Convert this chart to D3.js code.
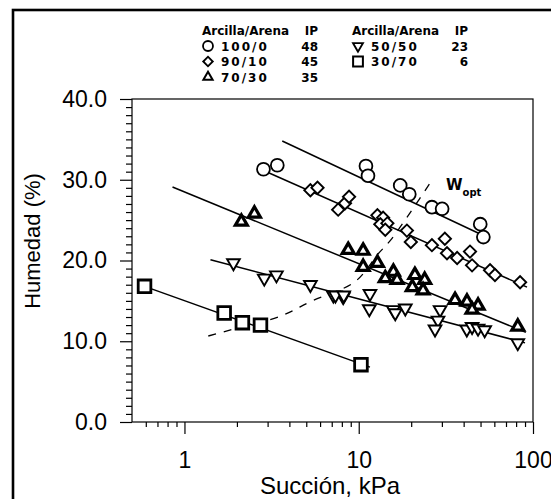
<!DOCTYPE html>
<html>
<head>
<meta charset="utf-8">
<script src="https://cdn.jsdelivr.net/npm/d3@7"></script>
<style>
  html, body { margin: 0; padding: 0; background: #fff; }
  svg { display: block; }
  .axis text { font-family: "Liberation Sans", Arial, sans-serif; fill: #000; }
  .legend text { font-family: "DejaVu Sans", sans-serif; font-weight: bold; fill: #000; }
</style>
</head>
<body>
<div id="chart"></div>
<script>
// Humedad vs succión, five clay/sand mixes with fitted lines and the W_opt curve.

const WIDTH = 551;
const HEIGHT = 499;
const PLOT = { left: 132, right: 533, top: 99, bottom: 422 };

// Points: [succión kPa, humedad %]
const mix100_0 = [[2.84, 31.3], [3.41, 31.8], [11.0, 31.7], [11.3, 30.5], [17.3, 29.3],
  [19.5, 28.2], [26.3, 26.6], [30.1, 26.4], [49.8, 24.5], [51.9, 22.9]];
const mix90_10 = [[5.28, 28.7], [5.8, 29.0], [7.62, 26.3], [8.34, 27.1], [8.8, 27.9],
  [12.8, 25.6], [13.8, 25.3], [13.3, 24.5], [14.6, 24.6], [14.2, 23.8], [18.9, 23.7],
  [19.9, 22.3], [26.3, 21.9], [31.2, 22.7], [32.1, 20.9], [36.7, 20.3], [43.5, 21.1],
  [44.7, 19.4], [56.7, 18.8], [60.5, 18.2], [84.3, 17.3]];
const mix70_30 = [[2.12, 24.8], [2.52, 25.8], [8.7, 21.3], [10.6, 21.2], [10.6, 19.2],
  [12.8, 19.7], [15.8, 18.6], [16.6, 17.6], [14.2, 17.8], [21.0, 18.2], [23.9, 17.6],
  [20.3, 16.7], [23.4, 16.3], [35.7, 15.1], [41.8, 14.9], [48.4, 14.4], [44.7, 13.9],
  [81.8, 11.8]];
const mix50_50 = [[1.91, 19.7], [2.87, 17.8], [3.37, 18.2], [5.28, 17.0], [7.15, 15.7],
  [8.15, 15.5], [7.35, 15.7], [8.2, 15.7], [11.6, 15.9], [11.5, 14.0], [15.8, 13.9],
  [16.2, 13.5], [18.5, 14.1], [29.3, 13.9], [28.5, 12.6], [27.4, 11.5], [41.7, 11.5],
  [44.7, 11.8], [48.4, 11.6], [52.8, 11.4], [81.8, 9.8]];
const mix30_70 = [[0.59, 16.8], [1.69, 13.5], [2.15, 12.3], [2.73, 12.0], [10.3, 7.1]];

// Fitted lines, start and end: [succión, humedad]
const fit100_0 = [[3.64, 34.8], [48.4, 23.4]];
const fit90_10 = [[2.8, 31.2], [92.4, 16.7]];
const fit70_30 = [[0.854, 29.1], [91, 11.1]];
const fit50_50 = [[1.41, 20.1], [90, 9.8]];
const fit30_70 = [[0.59, 16.8], [11.6, 6.8]];

// Optimum water content curve (dashed)
const wOpt = [[1.37, 10.65], [1.84, 11.4], [3.55, 13.1], [5.41, 15.0], [9.55, 17.4],
  [12.9, 20.8], [15.2, 22.5], [19.7, 25.9], [26.4, 30.0]];

const xMajor = [1, 10, 100];
const xMinor = [0.6, 0.7, 0.8, 0.9, 2, 3, 4, 5, 6, 7, 8, 9, 20, 30, 40, 50, 60, 70, 80, 90];
const yMajor = [0, 10, 20, 30, 40];
const yMinor = d3.range(0, 41).filter((v) => v % 10 !== 0);

const legendLeft = [["circle", "100/0", "48"], ["diamond", "90/10", "45"], ["triUp", "70/30", "35"]];
const legendRight = [["triDown", "50/50", "23"], ["square", "30/70", "6"]];

const svg = d3.select("#chart").append("svg")
  .attr("width", WIDTH)
  .attr("height", HEIGHT);

// outer frame
svg.append("rect")
  .attr("x", 13).attr("y", 10)
  .attr("width", 600).attr("height", 560)
  .attr("fill", "none").attr("stroke", "#000").attr("stroke-width", 2.6);

const x = d3.scaleLog().domain([0.5, 100]).range([PLOT.left, PLOT.right]);
const y = d3.scaleLinear().domain([0, 40]).range([PLOT.bottom, PLOT.top]);

// plot box
svg.append("rect")
  .attr("x", PLOT.left).attr("y", PLOT.top)
  .attr("width", PLOT.right - PLOT.left).attr("height", PLOT.bottom - PLOT.top)
  .attr("fill", "none").attr("stroke", "#000").attr("stroke-width", 1.2);

const styleAxis = (g) => {
  g.select(".domain").remove();
  g.selectAll(".tick line").attr("stroke", "#000").attr("stroke-width", 1.2);
};

svg.append("g").attr("class", "axis")
  .attr("transform", `translate(0,${PLOT.bottom})`)
  .call(d3.axisBottom(x).tickValues(xMinor).tickSize(5).tickFormat(""))
  .call(styleAxis);
svg.append("g").attr("class", "axis")
  .attr("transform", `translate(0,${PLOT.bottom})`)
  .call(d3.axisBottom(x).tickValues(xMajor).tickSize(12).tickPadding(18).tickFormat(d3.format("d")))
  .call(styleAxis)
  .call((g) => g.selectAll("text").style("font-size", "23px"));

svg.append("g").attr("class", "axis")
  .attr("transform", `translate(${PLOT.left},0)`)
  .call(d3.axisLeft(y).tickValues(yMinor).tickSize(6).tickFormat(""))
  .call(styleAxis);
svg.append("g").attr("class", "axis")
  .attr("transform", `translate(${PLOT.left},0)`)
  .call(d3.axisLeft(y).tickValues(yMajor).tickSize(12).tickPadding(13).tickFormat(d3.format(".1f")))
  .call(styleAxis)
  .call((g) => g.selectAll("text").style("font-size", "23px"));

svg.append("text").attr("class", "axis")
  .attr("x", 330).attr("y", 494)
  .attr("text-anchor", "middle")
  .style("font-family", "'Liberation Sans', Arial, sans-serif")
  .style("font-size", "24px")
  .text("Succión, kPa");

svg.append("text")
  .attr("transform", "translate(40,241) rotate(-90)")
  .attr("text-anchor", "middle")
  .style("font-family", "'Liberation Sans', Arial, sans-serif")
  .style("font-size", "22px")
  .text("Humedad (%)");

// fitted lines
const line = d3.line().x((d) => x(d[0])).y((d) => y(d[1]));
[fit100_0, fit90_10, fit70_30, fit50_50, fit30_70].forEach((fit) => {
  svg.append("path")
    .attr("d", line(fit))
    .attr("fill", "none").attr("stroke", "#000").attr("stroke-width", 1.5);
});

svg.append("path")
  .attr("d", line.curve(d3.curveCatmullRom)(wOpt))
  .attr("fill", "none").attr("stroke", "#000").attr("stroke-width", 1.3)
  .attr("stroke-dasharray", "8,8");

// markers
const SHAPES = {
  circle: { type: d3.symbolCircle, size: 130, rotate: 0, width: 1.8 },
  diamond: { type: d3.symbolSquare, size: 75, rotate: 45, width: 1.9 },
  triUp: { type: d3.symbolTriangle, size: 62, rotate: 0, width: 3.2 },
  triDown: { type: d3.symbolTriangle, size: 70, rotate: 180, width: 1.9 },
  square: { type: d3.symbolSquare, size: 160, rotate: 0, width: 2.8 },
};

function drawMarkers(points, shape) {
  const s = SHAPES[shape];
  svg.append("g")
    .selectAll("path")
    .data(points)
    .join("path")
    .attr("d", d3.symbol().type(s.type).size(s.size))
    .attr("transform", (d) => `translate(${x(d[0])},${y(d[1])}) rotate(${s.rotate})`)
    .attr("fill", "#fff")
    .attr("stroke", "#000")
    .attr("stroke-width", s.width);
}

drawMarkers(mix30_70, "square");
drawMarkers(mix50_50, "triDown");
drawMarkers(mix70_30, "triUp");
drawMarkers(mix90_10, "diamond");
drawMarkers(mix100_0, "circle");

// W_opt label
const wLabel = svg.append("text")
  .attr("x", 446).attr("y", 190)
  .style("font-family", "'DejaVu Sans', sans-serif")
  .style("font-weight", "bold")
  .style("font-size", "15px");
wLabel.append("tspan").text("W");
wLabel.append("tspan").attr("dy", 6).style("font-size", "10px").text("opt");

// legend
const legend = svg.append("g").attr("class", "legend");
const ROW0 = 35;
const ROW_STEP = 15.5;

function legendColumn(rows, x0, ipRight) {
  legend.append("text").attr("x", x0).attr("y", ROW0).style("font-size", "12px").text("Arcilla/Arena");
  legend.append("text").attr("x", ipRight).attr("y", ROW0).attr("text-anchor", "end")
    .style("font-size", "12px").text("IP");
  rows.forEach(([shape, label, ip], i) => {
    const yy = ROW0 + ROW_STEP * (i + 1);
    const s = SHAPES[shape];
    legend.append("path")
      .attr("d", d3.symbol().type(s.type).size(s.size * 0.6))
      .attr("transform", `translate(${x0 + 6},${yy - 4.5}) rotate(${s.rotate})`)
      .attr("fill", "#fff").attr("stroke", "#000").attr("stroke-width", Math.min(s.width, 2));
    legend.append("text").attr("x", x0 + 19).attr("y", yy)
      .style("font-size", "12px").style("letter-spacing", "2px").text(label);
    legend.append("text").attr("x", ipRight).attr("y", yy).attr("text-anchor", "end")
      .style("font-size", "12px").text(ip);
  });
}

legendColumn(legendLeft, 202, 318);
legendColumn(legendRight, 352, 468);
</script>
</body>
</html>
